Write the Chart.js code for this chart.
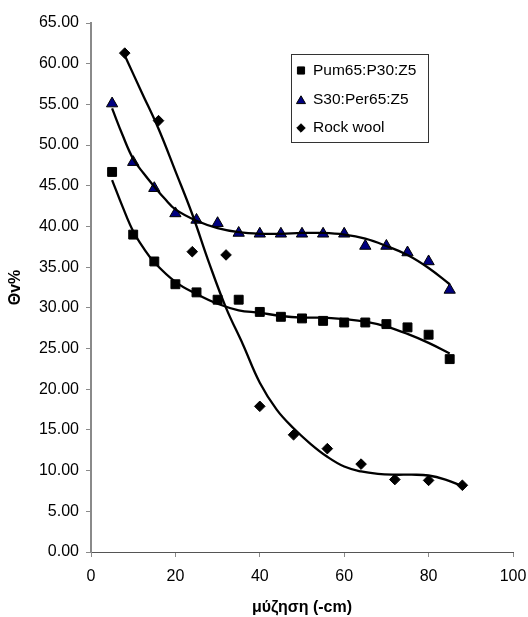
<!DOCTYPE html>
<html>
<head>
<meta charset="utf-8">
<script src="https://cdn.jsdelivr.net/npm/chart.js@4.4.1/dist/chart.umd.min.js"></script>
<style>
  html, body { margin: 0; padding: 0; background: #fff; }
  #wrap { width: 528px; height: 617px; position: relative; }
</style>
</head>
<body>
<div id="wrap"><canvas id="c" width="528" height="617"></canvas></div>
<script>
// ---- data ----
const seriesNames = ['Pum65:P30:Z5', 'S30:Per65:Z5', 'Rock wool'];

const pumX = [5, 10, 15, 20, 25, 30, 35, 40, 45, 50, 55, 60, 65, 70, 75, 80, 85];
const pumY = [46.7, 39.0, 35.7, 32.9, 31.9, 31.0, 31.0, 29.5, 28.9, 28.7, 28.4, 28.2, 28.2, 28.0, 27.6, 26.7, 23.7];

const s30X = [5, 10, 15, 20, 25, 30, 35, 40, 45, 50, 55, 60, 65, 70, 75, 80, 85];
const s30Y = [55.1, 47.9, 44.7, 41.6, 40.8, 40.4, 39.2, 39.1, 39.1, 39.1, 39.1, 39.1, 37.6, 37.6, 36.8, 35.7, 32.2];

const rockX = [8, 16, 24, 32, 40, 48, 56, 64, 72, 80, 88];
const rockY = [61.3, 53.0, 36.9, 36.5, 17.9, 14.4, 12.7, 10.8, 8.9, 8.8, 8.2];

// trend lines (smoothed curves as drawn in the reference)
const pumTrendX = [5, 7.5, 10, 12.5, 15, 20, 25, 30, 35, 40, 45, 50, 55, 60, 65, 70, 75, 80, 85];
const pumTrendY = [45.7, 42.4, 39.4, 37.3, 35.6, 33.2, 31.7, 30.5, 29.7, 29.4, 29.0, 28.8, 28.8, 28.6, 28.3, 27.7, 26.8, 25.7, 24.4];

const s30TrendX = [5, 7.5, 10, 12.5, 15, 17.5, 20, 25, 30, 35, 40, 45, 50, 55, 60, 65, 70, 75, 80, 85];
const s30TrendY = [54.5, 51.2, 48.3, 46.5, 44.9, 43.4, 42.1, 40.7, 39.8, 39.3, 39.1, 39.1, 39.2, 39.2, 39.0, 38.5, 37.6, 36.5, 34.9, 32.9];

const rockTrendX = [8, 12, 16, 20, 24, 28, 32, 36, 40, 44, 48, 52, 56, 60, 64, 68, 72, 76, 80, 84, 88];
const rockTrendY = [61.0, 56.5, 52.0, 46.8, 41.5, 35.5, 30.0, 25.5, 20.8, 17.5, 15.2, 13.3, 11.7, 10.5, 9.9, 9.6, 9.5, 9.5, 9.4, 8.9, 8.1];

const xTicks = [0, 20, 40, 60, 80, 100];
const yTicks = [0, 5, 10, 15, 20, 25, 30, 35, 40, 45, 50, 55, 60, 65];

const xTitle = 'μύζηση (-cm)';
const yTitle = 'Θv%';

// ---- helpers ----
const pts = (xs, ys) => xs.map((x, i) => ({ x: x, y: ys[i] }));
const FONT = '"Liberation Sans", Arial, Helvetica, sans-serif';
Chart.defaults.font.family = FONT;
Chart.defaults.color = '#000';

const markerStyles = [
  { pointStyle: 'rect', radius: 6.3, fill: '#000000', stroke: '#000000' },
  { pointStyle: 'triangle', radius: 6.5, fill: '#000080', stroke: '#000000' },
  { pointStyle: 'rectRot', radius: 5.3, fill: '#000000', stroke: '#000000' }
];

function markerDataset(label, data, st) {
  return {
    label: label, data: data, showLine: false,
    pointStyle: st.pointStyle, pointRadius: st.radius, pointHoverRadius: st.radius,
    pointBackgroundColor: st.fill, pointBorderColor: st.stroke, pointBorderWidth: 1,
    order: 2
  };
}
function trendDataset(data) {
  return {
    label: '_trend', data: data, showLine: true, pointRadius: 0,
    borderColor: '#000', borderWidth: 2.3, tension: 0.4, fill: false,
    order: 1
  };
}

const legendPlugin = {
  id: 'boxLegend',
  afterDraw(chart) {
    const ctx = chart.ctx;
    const box = { l: 291.5, t: 54.5, r: 428.5, b: 142.5 };
    ctx.save();
    ctx.fillStyle = '#fff';
    ctx.fillRect(box.l, box.t, box.r - box.l, box.b - box.t);
    ctx.strokeStyle = '#333';
    ctx.lineWidth = 1;
    ctx.strokeRect(box.l, box.t, box.r - box.l, box.b - box.t);
    const rows = [70.5, 99.5, 128];
    ctx.font = '15.5px ' + FONT;
    ctx.textBaseline = 'middle';
    ctx.textAlign = 'left';
    seriesNames.forEach((name, i) => {
      const st = markerStyles[i];
      ctx.fillStyle = st.fill;
      ctx.strokeStyle = st.stroke;
      ctx.lineWidth = 1;
      Chart.helpers.drawPoint(ctx, { pointStyle: st.pointStyle, radius: st.radius * 0.8, borderWidth: 1 }, 301, rows[i] + (st.pointStyle === 'triangle' ? 1.5 : 0));
      ctx.fillStyle = '#000';
      ctx.fillText(name, 313, rows[i]);
    });
    ctx.restore();
  }
};

const axisColor = '#8a8a8a';

new Chart(document.getElementById('c'), {
  type: 'scatter',
  data: {
    datasets: [
      markerDataset(seriesNames[0], pts(pumX, pumY), markerStyles[0]),
      markerDataset(seriesNames[1], pts(s30X, s30Y), markerStyles[1]),
      markerDataset(seriesNames[2], pts(rockX, rockY), markerStyles[2]),
      trendDataset(pts(pumTrendX, pumTrendY)),
      trendDataset(pts(s30TrendX, s30TrendY)),
      trendDataset(pts(rockTrendX, rockTrendY))
    ]
  },
  options: {
    responsive: false,
    animation: false,
    devicePixelRatio: 1,
    layout: { padding: { left: 0, right: 15, top: 23, bottom: 0 } },
    plugins: {
      legend: { display: false },
      tooltip: { enabled: false }
    },
    scales: {
      x: {
        type: 'linear', min: xTicks[0], max: xTicks[xTicks.length - 1],
        afterBuildTicks: (s) => { s.ticks = xTicks.map(v => ({ value: v })); },
        afterFit: (s) => { s.height = 65; s.paddingLeft = 0; s.paddingRight = 0; },
        ticks: { font: { size: 16 }, color: '#000', padding: 10, maxRotation: 0, autoSkip: false },
        grid: { drawOnChartArea: false, drawTicks: true, tickLength: 5, color: axisColor, tickWidth: 1 },
        border: { display: true, color: '#555', width: 1 },
        title: { display: true, text: xTitle, font: { size: 16, weight: 'bold', lineHeight: 1 }, color: '#000', padding: { top: 0, bottom: 1 } }
      },
      y: {
        type: 'linear', min: yTicks[0], max: yTicks[yTicks.length - 1],
        afterBuildTicks: (s) => { s.ticks = yTicks.map(v => ({ value: v })); },
        afterFit: (s) => { s.width = 91; s.paddingTop = 0; s.paddingBottom = 0; },
        ticks: { font: { size: 16 }, color: '#000', padding: 7, autoSkip: false, callback: (v) => Number(v).toFixed(2) },
        grid: { drawOnChartArea: false, drawTicks: true, tickLength: 5, color: axisColor, tickWidth: 1 },
        border: { display: true, color: axisColor, width: 2 },
        title: { display: true, text: yTitle, font: { size: 16, weight: 'bold', lineHeight: 1 }, color: '#000', padding: { top: 8, bottom: 0 } }
      }
    }
  },
  plugins: [legendPlugin]
});
</script>
</body>
</html>
